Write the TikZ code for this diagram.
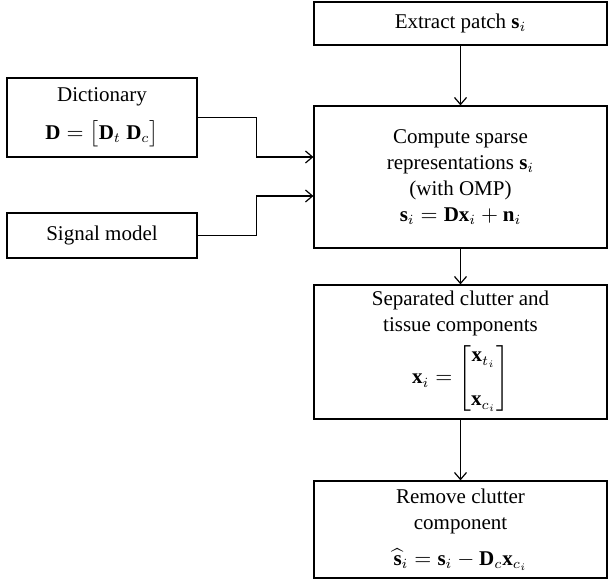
\documentclass[tikz,border=0pt]{standalone}
\usepackage{amsmath}
\usepackage{fontspec}
\setmainfont{Liberation Serif}
\usetikzlibrary{arrows.meta}

\begin{document}
\begin{tikzpicture}[x=0.5pt,y=-0.5pt,
  box/.style={draw,line width=0.6pt,inner sep=2pt,align=center,
    font=\fontsize{10.5}{13}\selectfont,minimum width=146.5pt},
  side/.style={box,minimum width=95pt},
  flow/.style={->,line width=0.6pt,>={Straight Barb[length=3.5pt,width=6pt]}}]
\useasboundingbox (0,0) rectangle (609,581);

\node[box,minimum height=21.5pt] (patch) at (460.5,23.5) {Extract patch $\mathbf{s}_i$};
\node[box,minimum height=71pt] (comp) at (460.5,177)
  {Compute sparse\\representations $\mathbf{s}_i$\\(with OMP)\\$\mathbf{s}_i=\mathbf{D}\mathbf{x}_i+\mathbf{n}_i$};
\node[box,minimum height=67pt] (sep) at (460.5,352)
  {Separated clutter and\\tissue components\\[3pt]$\mathbf{x}_i=\begin{bmatrix}\mathbf{x}_{t_i}\\[9pt]\mathbf{x}_{c_i}\end{bmatrix}$};
\node[box,minimum height=48.5pt] (rem) at (460.5,529.5)
  {Remove clutter\\component\\[5pt]$\widehat{\mathbf{s}}_i=\mathbf{s}_i-\mathbf{D}_c\mathbf{x}_{c_i}$};

\node[side,minimum height=39.5pt] (dict) at (102,117.5)
  {Dictionary\\[6pt]$\mathbf{D}=\bigl[\mathbf{D}_t\ \mathbf{D}_c\bigr]$};
\node[side,minimum height=22.5pt] (sig) at (102,235.5) {Signal model};

\draw[flow] (patch) -- (comp);
\draw[flow] (comp) -- (sep);
\draw[flow] (sep) -- (rem);
\draw[flow] (dict.east) -- ++(59,0) |- ([yshift=10pt]comp.west);
\draw[flow] (sig.east) -- ++(59,0) |- ([yshift=-9.5pt]comp.west);
\end{tikzpicture}
\end{document}
